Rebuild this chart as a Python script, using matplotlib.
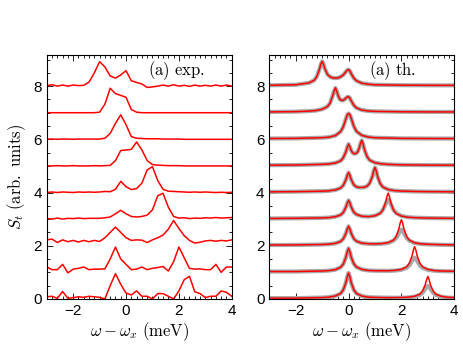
import numpy as np
import matplotlib
matplotlib.use("Agg")
import matplotlib.pyplot as plt
from matplotlib.ticker import MultipleLocator

plt.rcParams["font.family"] = ["Liberation Sans", "DejaVu Sans"]
plt.rcParams["mathtext.fontset"] = "cm"

# ── experimental spectra (offset n added when drawn) ──────────────────────────
exp_x = [-3.0, -2.8, -2.6, -2.4, -2.2, -2.0, -1.8, -1.6, -1.4, -1.2, -1.0, -0.8,
         -0.6, -0.4, -0.2, 0.0, 0.2, 0.4, 0.6, 0.8, 1.0, 1.2, 1.4, 1.6,
         1.8, 2.0, 2.2, 2.4, 2.6, 2.8, 3.0, 3.2, 3.4, 3.6, 3.8, 4.0]

exp0 = [0.08, 0.10, 0.02, 0.28, 0.02, 0.05, 0.08, 0.06, 0.10, 0.08, 0.06, 0.00,
        0.50, 0.95, 0.55, 0.22, 0.15, 0.30, 0.10, 0.10, 0.00, 0.20, 0.20, 0.10,
        0.00, 0.30, 0.72, 0.85, 0.27, 0.20, 0.05, 0.10, 0.10, 0.30, 0.25, 0.10]
exp1 = [0.20, 0.10, 0.10, 0.30, -0.02, 0.12, 0.15, 0.20, 0.10, 0.12, 0.12, 0.13,
        0.50, 0.95, 0.50, 0.30, 0.10, 0.12, 0.20, 0.10, 0.15, 0.18, 0.22, 0.05,
        0.40, 0.95, 0.55, 0.15, 0.12, 0.13, 0.10, 0.10, 0.30, 0.00, 0.20, 0.20]
exp2 = [0.22, 0.25, 0.12, 0.22, 0.15, 0.20, 0.14, 0.20, 0.15, 0.20, 0.16, 0.30,
        0.50, 0.70, 0.50, 0.30, 0.20, 0.22, 0.21, 0.12, 0.22, 0.30, 0.40, 0.62,
        0.95, 0.65, 0.38, 0.20, 0.10, 0.13, 0.18, 0.20, 0.17, 0.20, 0.18, 0.22]
exp3 = [0.03, 0.00, 0.04, 0.00, 0.03, 0.02, 0.04, 0.02, 0.03, 0.03, 0.03, 0.05,
        0.08, 0.20, 0.33, 0.20, 0.10, 0.08, 0.10, 0.15, 0.35, 0.88, 0.97, 0.45,
        0.10, 0.04, 0.05, 0.02, 0.04, 0.03, 0.05, 0.04, 0.06, 0.04, 0.05, 0.06]
exp4 = [0.00, 0.02, 0.00, 0.02, 0.01, 0.00, 0.02, 0.01, 0.02, 0.01, 0.02, 0.04,
        0.03, 0.12, 0.42, 0.22, 0.11, 0.15, 0.35, 0.85, 0.97, 0.45, 0.12, 0.05,
        0.04, 0.03, 0.02, 0.01, 0.02, 0.01, 0.02, 0.01, 0.00, 0.01, 0.00, 0.01]
exp5 = [0.00, 0.00, 0.01, 0.00, 0.00, 0.01, 0.00, 0.00, 0.00, 0.01, 0.00, 0.01,
        0.02, 0.20, 0.58, 0.60, 0.62, 0.90, 0.60, 0.20, 0.05, 0.03, 0.02, 0.01,
        0.01, 0.01, 0.00, 0.00, 0.00, 0.00, 0.00, 0.00, 0.00, 0.00, 0.00, 0.00]
exp6 = [0.01, 0.01, 0.00, 0.01, 0.01, 0.00, 0.01, 0.01, 0.01, 0.01, 0.01, 0.04,
        0.22, 0.60, 0.92, 0.55, 0.10, 0.04, 0.03, 0.02, 0.02, 0.02, 0.01, 0.01,
        0.01, 0.01, 0.00, 0.00, 0.00, 0.00, 0.00, 0.00, 0.00, 0.00, 0.00, 0.00]
exp7 = [0.00, 0.00, 0.00, 0.00, 0.00, 0.00, 0.00, 0.00, 0.00, 0.00, 0.02, 0.32,
        0.92, 0.72, 0.65, 0.58, 0.12, 0.02, 0.00, 0.00, 0.00, 0.00, 0.00, 0.00,
        0.00, 0.00, 0.00, 0.00, 0.00, 0.00, 0.00, 0.00, 0.00, 0.00, 0.00, 0.00]
exp8 = [0.02, 0.05, 0.00, 0.04, 0.00, 0.04, 0.02, 0.03, 0.15, 0.50, 0.92, 0.72,
        0.38, 0.30, 0.42, 0.58, 0.20, 0.14, 0.08, -0.05, -0.03, 0.00, 0.04, 0.00,
        0.05, 0.00, 0.03, -0.01, 0.04, 0.00, 0.03, 0.00, 0.04, 0.00, 0.04, 0.00]
exp_traces = [exp0, exp1, exp2, exp3, exp4, exp5, exp6, exp7, exp8]

# ── theory spectra: red = full, gray = second line damped (traces 0-3) ───────
th0_x = [-3, -2, -1, -0.75, -0.5, -0.3, -0.2, -0.1, -0.05, 0, 0.05, 0.1, 0.2, 0.3, 0.5,
         0.75, 1.0, 1.5, 2.0, 2.25, 2.5, 2.7, 2.8, 2.9, 2.95, 3.0, 3.05, 3.1, 3.2, 3.3,
         3.5, 3.75, 4.0]
th0_red = [0.03, 0.03, 0.05, 0.066, 0.11, 0.205, 0.34, 0.615, 0.83, 0.975, 0.83, 0.615,
           0.34, 0.205, 0.11, 0.066, 0.057, 0.046, 0.054, 0.064, 0.10, 0.18, 0.30, 0.53,
           0.72, 0.845, 0.72, 0.53, 0.30, 0.18, 0.10, 0.06, 0.05]
th0_gray = [0.03, 0.03, 0.05, 0.066, 0.11, 0.205, 0.34, 0.615, 0.83, 0.975, 0.83, 0.615,
            0.34, 0.205, 0.11, 0.066, 0.057, 0.046, 0.043, 0.055, 0.085, 0.155, 0.23, 0.37,
            0.45, 0.485, 0.45, 0.37, 0.23, 0.155, 0.085, 0.05, 0.04]

th1_x = [-3, -2, -1, -0.75, -0.5, -0.3, -0.2, -0.1, -0.05, 0, 0.05, 0.1, 0.2, 0.3, 0.5,
         0.75, 1.0, 1.5, 1.75, 2.0, 2.2, 2.3, 2.4, 2.45, 2.5, 2.55, 2.6, 2.7, 2.8, 3.0,
         3.25, 3.5, 4.0]
th1_red = [0.03, 0.03, 0.05, 0.064, 0.10, 0.19, 0.31, 0.57, 0.77, 0.90, 0.77, 0.57,
           0.32, 0.20, 0.11, 0.07, 0.06, 0.06, 0.073, 0.11, 0.21, 0.34, 0.61, 0.83,
           0.965, 0.83, 0.61, 0.34, 0.21, 0.11, 0.065, 0.05, 0.04]
th1_gray = [0.03, 0.03, 0.05, 0.064, 0.10, 0.19, 0.31, 0.57, 0.77, 0.90, 0.77, 0.57,
            0.32, 0.20, 0.11, 0.07, 0.06, 0.054, 0.065, 0.097, 0.17, 0.26, 0.42, 0.51,
            0.547, 0.51, 0.42, 0.26, 0.17, 0.095, 0.06, 0.045, 0.035]

th2_x = [-3, -2, -1, -0.75, -0.5, -0.3, -0.2, -0.1, -0.05, 0, 0.05, 0.1, 0.2, 0.3, 0.5,
         0.75, 1.0, 1.25, 1.5, 1.7, 1.8, 1.9, 1.95, 2.0, 2.05, 2.1, 2.2, 2.3, 2.5, 2.75,
         3.0, 3.5, 4.0]
th2_red = [0.026, 0.03, 0.046, 0.058, 0.09, 0.16, 0.26, 0.46, 0.625, 0.73, 0.625, 0.466,
           0.263, 0.17, 0.097, 0.074, 0.07, 0.079, 0.117, 0.21, 0.34, 0.62, 0.84, 0.98,
           0.84, 0.62, 0.34, 0.21, 0.11, 0.07, 0.055, 0.04, 0.033]
th2_gray = [0.026, 0.03, 0.046, 0.058, 0.09, 0.16, 0.26, 0.46, 0.625, 0.73, 0.625, 0.466,
            0.263, 0.17, 0.097, 0.074, 0.064, 0.074, 0.106, 0.19, 0.29, 0.46, 0.56, 0.608,
            0.56, 0.46, 0.29, 0.19, 0.10, 0.065, 0.05, 0.035, 0.03]

th3_x = [-3, -2, -1, -0.75, -0.5, -0.3, -0.2, -0.1, -0.05, 0, 0.05, 0.1, 0.2, 0.3, 0.5,
         0.75, 1.0, 1.2, 1.3, 1.4, 1.45, 1.5, 1.55, 1.6, 1.7, 1.8, 2.0, 2.25, 2.5, 3.0, 4.0]
th3_red = [0.025, 0.031, 0.046, 0.057, 0.09, 0.158, 0.25, 0.45, 0.60, 0.705, 0.61, 0.455,
           0.26, 0.175, 0.11, 0.093, 0.126, 0.215, 0.345, 0.62, 0.84, 0.98, 0.84, 0.62,
           0.34, 0.21, 0.115, 0.07, 0.055, 0.04, 0.03]
th3_gray = [0.025, 0.031, 0.046, 0.057, 0.09, 0.158, 0.25, 0.45, 0.60, 0.705, 0.61, 0.455,
            0.26, 0.175, 0.108, 0.095, 0.13, 0.23, 0.35, 0.56, 0.68, 0.73, 0.68, 0.56,
            0.35, 0.23, 0.12, 0.073, 0.056, 0.04, 0.03]

th4_x = [-3, -2, -1, -0.75, -0.5, -0.3, -0.2, -0.1, -0.05, 0, 0.05, 0.1, 0.2, 0.3, 0.4,
         0.5, 0.6, 0.7, 0.8, 0.9, 0.95, 1.0, 1.05, 1.1, 1.2, 1.3, 1.5, 1.75, 2.0, 2.5,
         3.0, 4.0]
th4_red = [0.025, 0.032, 0.05, 0.063, 0.097, 0.17, 0.27, 0.48, 0.64, 0.75, 0.645, 0.49,
           0.29, 0.21, 0.19, 0.19, 0.20, 0.24, 0.35, 0.60, 0.81, 0.94, 0.805, 0.596,
           0.333, 0.205, 0.112, 0.069, 0.054, 0.04, 0.033, 0.027]

th5_x = [-3, -2, -1, -0.75, -0.5, -0.3, -0.2, -0.1, -0.05, 0, 0.05, 0.1, 0.15, 0.2, 0.25,
         0.3, 0.35, 0.4, 0.45, 0.5, 0.55, 0.6, 0.7, 0.8, 1.0, 1.25, 1.5, 2.0, 3.0, 4.0]
th5_red = [0.028, 0.034, 0.06, 0.074, 0.11, 0.19, 0.31, 0.53, 0.70, 0.82, 0.72, 0.58,
           0.50, 0.46, 0.46, 0.48, 0.54, 0.66, 0.84, 0.96, 0.83, 0.62, 0.35, 0.216,
           0.12, 0.076, 0.057, 0.04, 0.03, 0.027]

th6_x = [-3, -2, -1, -0.75, -0.5, -0.3, -0.2, -0.1, -0.05, 0, 0.05, 0.1, 0.2, 0.3, 0.5,
         0.75, 1, 2, 3, 4]
th6_red = [0.03, 0.035, 0.06, 0.08, 0.14, 0.29, 0.47, 0.77, 0.92, 0.97, 0.93, 0.79,
           0.49, 0.30, 0.15, 0.085, 0.06, 0.035, 0.03, 0.028]

th7_x = [-3, -2, -1.5, -1.25, -1, -0.8, -0.7, -0.6, -0.55, -0.5, -0.45, -0.4, -0.35,
         -0.3, -0.25, -0.2, -0.15, -0.1, -0.05, 0, 0.05, 0.1, 0.2, 0.3, 0.5, 0.75, 1,
         2, 3, 4]
th7_red = [0.03, 0.04, 0.06, 0.08, 0.13, 0.23, 0.36, 0.64, 0.81, 0.93, 0.82, 0.66,
           0.54, 0.48, 0.46, 0.47, 0.50, 0.55, 0.59, 0.60, 0.55, 0.45, 0.28, 0.18,
           0.10, 0.065, 0.05, 0.035, 0.03, 0.028]

th8_x = [-3, -2, -1.5, -1.3, -1.2, -1.1, -1.05, -1.0, -0.95, -0.9, -0.8, -0.7, -0.6,
         -0.5, -0.4, -0.3, -0.2, -0.1, -0.05, 0, 0.05, 0.1, 0.2, 0.3, 0.5, 0.75, 1, 2,
         3, 4]
th8_red = [0.03, 0.05, 0.12, 0.22, 0.36, 0.64, 0.82, 0.93, 0.83, 0.66, 0.44, 0.35,
           0.31, 0.30, 0.31, 0.35, 0.42, 0.54, 0.60, 0.62, 0.57, 0.47, 0.30, 0.20,
           0.11, 0.07, 0.05, 0.035, 0.03, 0.028]

th_x = [th0_x, th1_x, th2_x, th3_x, th4_x, th5_x, th6_x, th7_x, th8_x]
th_red = [th0_red, th1_red, th2_red, th3_red, th4_red, th5_red, th6_red, th7_red, th8_red]
th_gray = [th0_gray, th1_gray, th2_gray, th3_gray, th4_red, th5_red, th6_red, th7_red, th8_red]

# ── figure ────────────────────────────────────────────────────────────────────
fig = plt.figure(figsize=(4.63, 3.48), dpi=100)
ax1 = fig.add_axes([0.101, 0.141, 0.3995, 0.701])
ax2 = fig.add_axes([0.5816, 0.141, 0.3995, 0.701])

for n, y in enumerate(exp_traces):
    ax1.plot(exp_x, np.array(y) + n, color="red", lw=1.1)

for n in range(len(th_x)):
    ax2.plot(th_x[n], np.array(th_gray[n]) + n, color="#a8a8a8", lw=3.0,
             solid_capstyle="round")
    ax2.plot(th_x[n], np.array(th_red[n]) + n, color="red", lw=1.1)

ax1.text(0.85, 8.6, r"$\mathrm{(a)\ exp.}$", fontsize=12, va="center")
ax2.text(0.78, 8.6, r"$\mathrm{(a)\ th.}$", fontsize=12, va="center")

for ax in (ax1, ax2):
    ax.set_xlim(-3, 4)
    ax.set_ylim(0, 9.17)
    ax.xaxis.set_major_locator(MultipleLocator(2))
    ax.xaxis.set_minor_locator(MultipleLocator(0.2))
    ax.yaxis.set_major_locator(MultipleLocator(2))
    ax.yaxis.set_minor_locator(MultipleLocator(0.5))
    ax.tick_params(which="both", direction="in", top=True, right=True,
                   labelsize=11, width=0.6)
    ax.tick_params(which="major", length=4)
    ax.tick_params(which="minor", length=2)
    ax.set_xlabel(r"$\omega - \omega_x\ \mathrm{(meV)}$", fontsize=12, labelpad=2)
    for s in ax.spines.values():
        s.set_linewidth(0.8)

ax1.set_ylabel(r"$S_t\ \mathrm{(arb.\ units)}$", fontsize=12, labelpad=4)

fig.savefig("out.png", dpi=100)
